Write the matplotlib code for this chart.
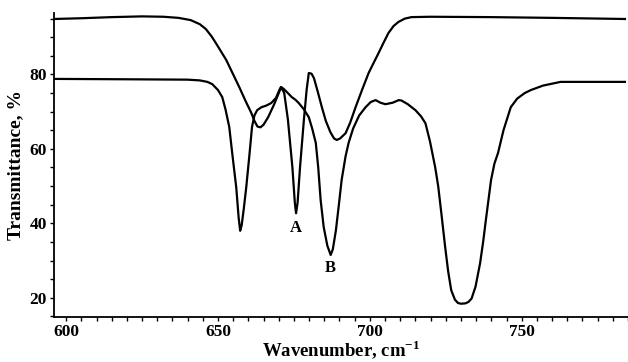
import matplotlib.pyplot as plt
from matplotlib.ticker import MultipleLocator

# Sample 1 (upper curve, with peak A)
wn_a = [596.0, 605.0, 615.0, 625.0, 632.0, 637.0, 641.0, 644.0, 646.0, 648.0,
        650.0, 652.7, 655.0, 657.0, 659.0, 661.0, 662.0, 663.0, 664.0, 665.0,
        666.5, 668.5, 670.0, 670.8, 671.8, 673.0, 674.5, 675.3, 675.7, 676.2,
        677.0, 678.3, 679.2, 679.9, 680.8, 681.6, 682.8, 684.2, 685.5, 687.0,
        688.2, 689.1, 690.2, 692.0, 693.5, 695.3, 697.5, 699.6, 701.3, 702.9,
        704.5, 706.1, 707.8, 709.4, 711.5, 713.7, 720.0, 740.0, 760.0, 784.0]
t_a = [94.9, 95.1, 95.4, 95.6, 95.5, 95.2, 94.6, 93.5, 92.2, 90.1,
       87.5, 83.9, 80.0, 76.6, 73.0, 69.6, 67.5, 66.0, 65.8, 66.5,
       68.5, 72.0, 75.0, 76.6, 75.0, 68.0, 55.0, 45.5, 42.7, 45.5,
       55.0, 68.0, 76.0, 80.4, 80.2, 79.0, 75.5, 71.2, 67.5, 64.5,
       62.8, 62.4, 62.8, 64.2, 67.0, 71.2, 76.0, 80.4, 83.2, 85.8,
       88.5, 91.1, 93.0, 94.1, 95.0, 95.4, 95.5, 95.4, 95.2, 94.9]

# Sample 2 (lower curve, with peak B)
wn_b = [596.0, 620.0, 640.0, 644.0, 646.5, 648.1, 650.0, 651.4, 652.5, 653.7,
        654.8, 656.0, 656.8, 657.3, 657.8, 658.5, 659.3, 660.3, 661.2, 662.0,
        662.9, 664.3, 665.8, 667.5, 669.1, 670.2, 670.7, 671.5, 673.0, 674.3,
        675.5, 676.6, 678.3, 679.9, 681.0, 682.2, 683.0, 683.8, 684.8, 686.0,
        687.1, 687.8, 688.8, 689.8, 690.7, 692.0, 693.0, 694.5, 696.5, 698.6,
        700.3, 701.9, 703.5, 705.1, 707.5, 709.5, 710.4, 712.5, 715.0, 716.8,
        718.3, 719.8, 721.5, 722.5, 723.5, 724.8, 725.8, 726.8, 728.0, 729.0,
        730.0, 731.5, 732.5, 733.5, 734.8, 736.3, 737.3, 738.2, 739.9, 741.0,
        742.2, 744.0, 746.4, 748.5, 751.0, 753.0, 757.0, 762.8, 784.0]
t_b = [78.8, 78.7, 78.6, 78.4, 78.0, 77.4, 75.8, 73.9, 70.5, 65.9,
       58.0, 49.7, 41.5, 38.0, 39.5, 44.0, 49.7, 58.0, 65.9, 69.0,
       70.4, 71.2, 71.6, 72.3, 73.7, 75.8, 76.6, 76.2, 75.0, 73.9,
       73.2, 72.3, 70.6, 68.5, 65.5, 61.6, 55.0, 46.2, 39.0, 34.0,
       31.5, 33.0, 38.0, 45.0, 51.6, 58.0, 61.6, 65.5, 69.0, 71.2,
       72.6, 73.1, 72.4, 72.0, 72.4, 73.1, 73.0, 72.0, 70.4, 68.8,
       66.9, 62.0, 55.1, 50.0, 43.0, 33.6, 27.0, 22.0, 19.5, 18.6,
       18.4, 18.5, 18.9, 19.8, 23.0, 29.3, 35.0, 40.9, 51.6, 56.0,
       58.9, 65.0, 71.2, 73.5, 75.0, 75.8, 77.0, 78.0, 78.0]

xticks = [600, 650, 700, 750]
yticks = [20, 40, 60, 80]

plt.rcParams['font.family'] = ['Liberation Serif', 'DejaVu Serif']
plt.rcParams['font.weight'] = 'bold'
plt.rcParams['mathtext.fontset'] = 'custom'
plt.rcParams['mathtext.rm'] = 'Liberation Serif:bold'
plt.rcParams['mathtext.bf'] = 'Liberation Serif:bold'

fig = plt.figure(figsize=(6.28, 3.62), dpi=100)
ax = fig.add_axes([0.086, 0.124, 0.914, 0.840])

ax.plot(wn_a, t_a, color='black', lw=1.6)
ax.plot(wn_b, t_b, color='black', lw=1.6)

ax.text(675.7, 38.7, 'A', ha='center', va='center', fontsize=12, fontweight='bold')
ax.text(687.1, 28.0, 'B', ha='center', va='center', fontsize=12, fontweight='bold')

ax.set_xlim(596, 785)
ax.set_ylim(14.8, 96.5)
ax.set_xticks(xticks)
ax.set_yticks(yticks)
ax.xaxis.set_minor_locator(MultipleLocator(5))
ax.yaxis.set_minor_locator(MultipleLocator(5))
ax.tick_params(which='both', direction='out', length=3, width=1, labelsize=12.5, pad=2)

for s in ['top', 'right']:
    ax.spines[s].set_visible(False)
for s in ['left', 'bottom']:
    ax.spines[s].set_linewidth(1.3)

ax.set_xlabel('Wavenumber, cm$^{-1}$', fontsize=13.5, fontweight='bold', labelpad=-1)
ax.set_ylabel('Transmittance, %', fontsize=14, fontweight='bold', labelpad=4)

plt.savefig('out.png', dpi=100)
